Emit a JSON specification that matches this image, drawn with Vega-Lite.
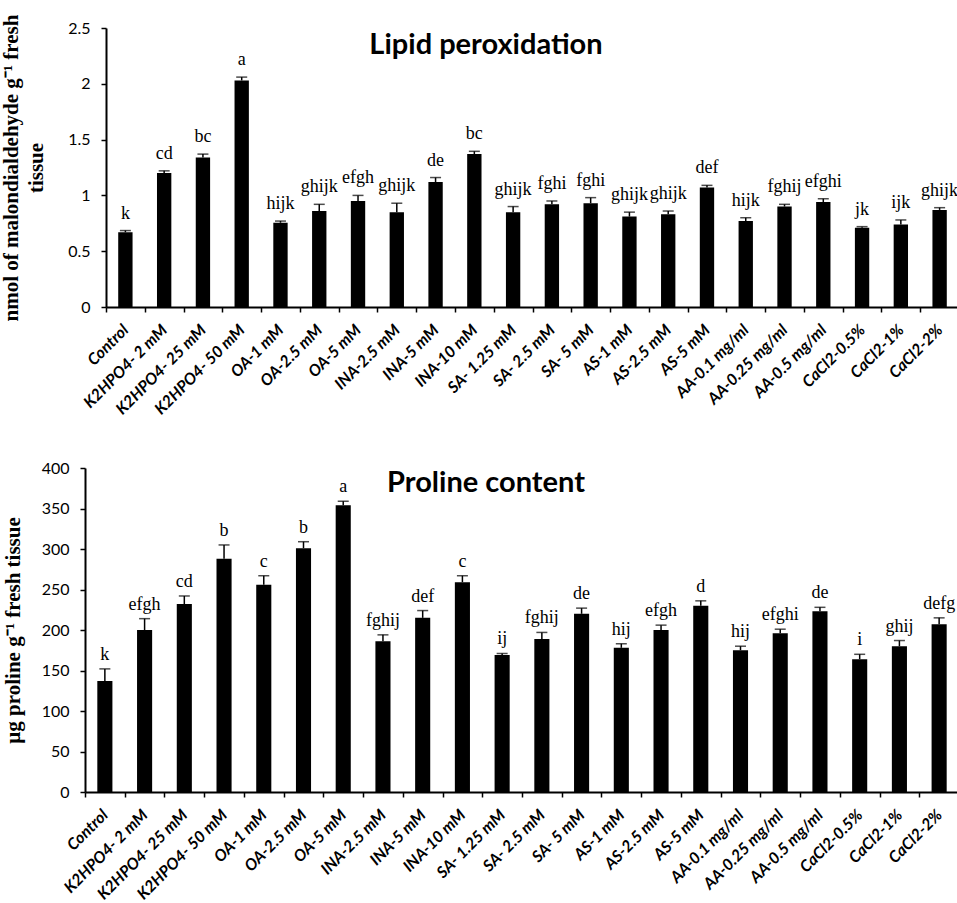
{
  "$schema": "https://vega.github.io/schema/vega-lite/v6.json",
  "background": "white",
  "padding": {"left": 0, "top": 14, "right": 0, "bottom": 0},
  "data": {"values": [
    {"t": "Control", "mda": 0.67, "mda_hi": 0.685, "mda_g": "k", "pro": 137, "pro_hi": 152, "pro_g": "k"},
    {"t": "K2HPO4- 2 mM", "mda": 1.2, "mda_hi": 1.22, "mda_g": "cd", "pro": 200, "pro_hi": 214, "pro_g": "efgh"},
    {"t": "K2HPO4- 25 mM", "mda": 1.34, "mda_hi": 1.37, "mda_g": "bc", "pro": 232, "pro_hi": 242, "pro_g": "cd"},
    {"t": "K2HPO4- 50 mM", "mda": 2.03, "mda_hi": 2.06, "mda_g": "a", "pro": 288, "pro_hi": 305, "pro_g": "b"},
    {"t": "OA-1 mM", "mda": 0.755, "mda_hi": 0.77, "mda_g": "hijk", "pro": 256, "pro_hi": 267, "pro_g": "c"},
    {"t": "OA-2.5 mM", "mda": 0.86, "mda_hi": 0.92, "mda_g": "ghijk", "pro": 301, "pro_hi": 309, "pro_g": "b"},
    {"t": "OA-5 mM", "mda": 0.95, "mda_hi": 1.0, "mda_g": "efgh", "pro": 354, "pro_hi": 359, "pro_g": "a"},
    {"t": "INA-2.5 mM", "mda": 0.85, "mda_hi": 0.93, "mda_g": "ghijk", "pro": 186, "pro_hi": 194, "pro_g": "fghij"},
    {"t": "INA-5 mM", "mda": 1.12, "mda_hi": 1.16, "mda_g": "de", "pro": 215, "pro_hi": 224, "pro_g": "def"},
    {"t": "INA-10 mM", "mda": 1.37, "mda_hi": 1.395, "mda_g": "bc", "pro": 259, "pro_hi": 267, "pro_g": "c"},
    {"t": "SA- 1.25 mM", "mda": 0.85, "mda_hi": 0.9, "mda_g": "ghijk", "pro": 169, "pro_hi": 171, "pro_g": "ij"},
    {"t": "SA- 2.5 mM", "mda": 0.92, "mda_hi": 0.95, "mda_g": "fghi", "pro": 189, "pro_hi": 197, "pro_g": "fghij"},
    {"t": "SA- 5 mM", "mda": 0.93, "mda_hi": 0.98, "mda_g": "fghi", "pro": 220, "pro_hi": 227, "pro_g": "de"},
    {"t": "AS-1 mM", "mda": 0.81, "mda_hi": 0.85, "mda_g": "ghijk", "pro": 178, "pro_hi": 183, "pro_g": "hij"},
    {"t": "AS-2.5 mM", "mda": 0.83, "mda_hi": 0.86, "mda_g": "ghijk", "pro": 200, "pro_hi": 206, "pro_g": "efgh"},
    {"t": "AS-5 mM", "mda": 1.07, "mda_hi": 1.09, "mda_g": "def", "pro": 230, "pro_hi": 236, "pro_g": "d"},
    {"t": "AA-0.1 mg/ml", "mda": 0.77, "mda_hi": 0.8, "mda_g": "hijk", "pro": 175, "pro_hi": 180, "pro_g": "hij"},
    {"t": "AA-0.25 mg/ml", "mda": 0.9, "mda_hi": 0.92, "mda_g": "fghij", "pro": 196, "pro_hi": 201, "pro_g": "efghi"},
    {"t": "AA-0.5 mg/ml", "mda": 0.94, "mda_hi": 0.97, "mda_g": "efghi", "pro": 223, "pro_hi": 228, "pro_g": "de"},
    {"t": "CaCl2-0.5%", "mda": 0.71, "mda_hi": 0.72, "mda_g": "jk", "pro": 164, "pro_hi": 170, "pro_g": "i"},
    {"t": "CaCl2-1%", "mda": 0.74, "mda_hi": 0.78, "mda_g": "ijk", "pro": 180, "pro_hi": 187, "pro_g": "ghij"},
    {"t": "CaCl2-2%", "mda": 0.87, "mda_hi": 0.89, "mda_g": "ghijk", "pro": 207, "pro_hi": 215, "pro_g": "defg"}
  ]},
  "spacing": 42,
  "vconcat": [
    {
      "width": 874,
      "height": 279,
      "title": {"text": "Lipid peroxidation", "anchor": "middle", "frame": "group", "baseline": "alphabetic", "dx": -36, "dy": 69, "offset": 0},
      "encoding": {
        "x": {"field": "t", "type": "nominal", "sort": null, "scale": {"paddingInner": 0, "paddingOuter": 0, "range": [21, 874]},
          "axis": {"title": null, "tickBand": "extent", "labelAngle": -45, "labelAlign": "right", "labelBaseline": "middle", "labelFont": "Lato", "labelFontStyle": "italic", "labelFontWeight": "bold", "labelFontSize": 16, "labelPadding": 15, "labelOverlap": false, "labelLimit": 0}}
      },
      "layer": [
        {"mark": {"type": "bar", "color": "black", "width": {"band": 0.37}},
          "encoding": {"y": {"field": "mda", "type": "quantitative", "scale": {"domain": [0, 2.5], "nice": false},
            "axis": {"offset": -21, "values": [0, 0.5, 1, 1.5, 2, 2.5], "format": "~g", "labelFont": "Lato", "labelFontSize": 16, "labelPadding": 11,
              "title": ["nmol of malondialdehyde g⁻¹ fresh", "tissue"], "titleFont": "Liberation Serif", "titleFontSize": 21, "titleFontWeight": "bold", "titleLineHeight": 25, "titlePadding": 21}}}},
        {"mark": {"type": "rule", "color": "black", "strokeWidth": 1.5},
          "encoding": {"y": {"field": "mda", "type": "quantitative"}, "y2": {"field": "mda_hi"}}},
        {"mark": {"type": "tick", "color": "black", "thickness": 1.5, "size": 11},
          "encoding": {"y": {"field": "mda_hi", "type": "quantitative"}}},
        {"mark": {"type": "text", "font": "Liberation Serif", "fontSize": 18, "baseline": "alphabetic", "dy": -12, "color": "black"},
          "encoding": {"y": {"field": "mda_hi", "type": "quantitative"}, "text": {"field": "mda_g"}}}
      ]
    },
    {
      "width": 874,
      "height": 324,
      "title": {"text": "Proline content", "anchor": "middle", "frame": "group", "baseline": "alphabetic", "dx": -36, "dy": 61, "offset": 0},
      "encoding": {
        "x": {"field": "t", "type": "nominal", "sort": null, "scale": {"paddingInner": 0, "paddingOuter": 0},
          "axis": {"title": null, "tickBand": "extent", "labelAngle": -45, "labelAlign": "right", "labelBaseline": "middle", "labelFont": "Lato", "labelFontStyle": "italic", "labelFontWeight": "bold", "labelFontSize": 16, "labelPadding": 15, "labelOverlap": false, "labelLimit": 0}}
      },
      "layer": [
        {"mark": {"type": "bar", "color": "black", "width": {"band": 0.38}},
          "encoding": {"y": {"field": "pro", "type": "quantitative", "scale": {"domain": [0, 400], "nice": false},
            "axis": {"values": [0, 50, 100, 150, 200, 250, 300, 350, 400], "labelFont": "Lato", "labelFontSize": 16, "labelPadding": 11,
              "title": "µg proline g⁻¹ fresh tissue", "titleFont": "Liberation Serif", "titleFontSize": 21, "titleFontWeight": "bold", "titlePadding": 18}}}},
        {"mark": {"type": "rule", "color": "black", "strokeWidth": 1.5},
          "encoding": {"y": {"field": "pro", "type": "quantitative"}, "y2": {"field": "pro_hi"}}},
        {"mark": {"type": "tick", "color": "black", "thickness": 1.5, "size": 11},
          "encoding": {"y": {"field": "pro_hi", "type": "quantitative"}}},
        {"mark": {"type": "text", "font": "Liberation Serif", "fontSize": 18, "baseline": "alphabetic", "dy": -9, "color": "black"},
          "encoding": {"y": {"field": "pro_hi", "type": "quantitative"}, "text": {"field": "pro_g"}}}
      ]
    }
  ],
  "config": {
    "view": {"stroke": null},
    "axis": {"domainColor": "black", "domainWidth": 2, "tickColor": "black", "tickWidth": 1.5, "tickSize": 5, "labelColor": "black", "titleColor": "black", "grid": false},
    "title": {"font": "Lato", "fontSize": 29, "fontWeight": "bold", "color": "black"}
  }
}
